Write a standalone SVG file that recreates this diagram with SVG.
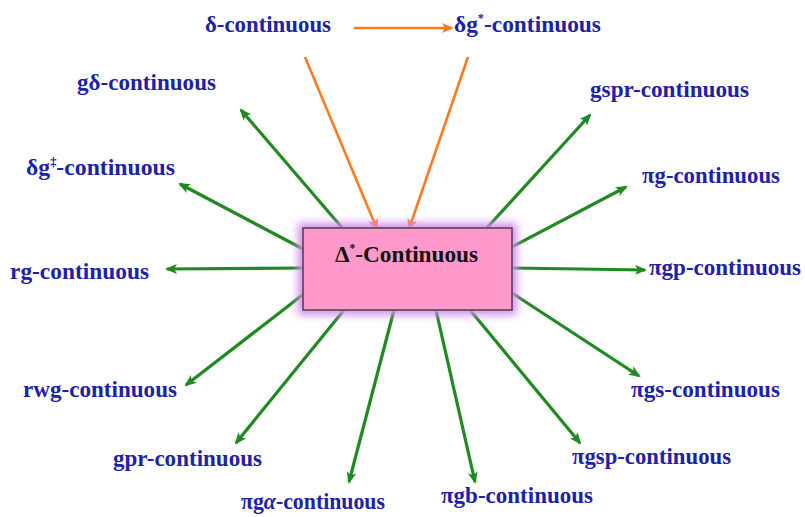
<svg xmlns="http://www.w3.org/2000/svg" width="805" height="517" viewBox="0 0 805 517">
<style>
.lbl{font-family:"Liberation Serif","Times New Roman",serif;font-weight:bold;font-size:23px;fill:#1e22a6}
.ctr{font-family:"Liberation Serif","Times New Roman",serif;font-weight:bold;font-size:24px;fill:#111}
.g{stroke:#1f8a1f;stroke-width:3.2;fill:none;marker-end:url(#ag)}
.o{stroke:#ff7a1f;stroke-width:2.6;fill:none;marker-end:url(#ao)}
.sup{font-size:12px}
</style>
<defs>
<marker id="ag" markerUnits="userSpaceOnUse" markerWidth="12" markerHeight="10" refX="10" refY="5" orient="auto"><path d="M0,0 L12,5 L0,10 L3,5 z" fill="#1f8a1f"/></marker>
<marker id="ao" markerUnits="userSpaceOnUse" markerWidth="12" markerHeight="10" refX="10" refY="5" orient="auto"><path d="M0,0 L12,5 L0,10 L3,5 z" fill="#ff7a1f"/></marker>
<filter id="glow" x="-20%" y="-30%" width="140%" height="160%"><feGaussianBlur stdDeviation="4"/></filter>
</defs>
<rect width="805" height="517" fill="#fff"/>
<g id="connectors">
<path class="o" d="M354,28 L452,28"/>
<path class="o" d="M305,57 L377,229"/>
<path class="o" d="M468,57 L409,229"/>
<path class="g" d="M344,230 L241,110"/>
<path class="g" d="M485,230 L590,115"/>
<path class="g" d="M305,250 L180,184"/>
<path class="g" d="M506,250 L626,187"/>
<path class="g" d="M305,268 L167,269"/>
<path class="g" d="M512,268 L645,270"/>
<path class="g" d="M305,293 L186,385"/>
<path class="g" d="M512,293 L639,376"/>
<path class="g" d="M344,310 L236,443"/>
<path class="g" d="M470,310 L580,443"/>
<path class="g" d="M394,310 L349,482"/>
<path class="g" d="M436,310 L475,482"/>
</g>
<g id="center">
<rect x="298" y="223" width="219" height="92" fill="#d58cf0" filter="url(#glow)"/>
<rect x="303" y="228" width="209" height="82" fill="#ff99cc" stroke="#444" stroke-width="1.5"/>
<text class="ctr" x="335" y="262" textLength="143" lengthAdjust="spacingAndGlyphs">Δ<tspan class="sup" dy="-10">*</tspan><tspan dy="10">-Continuous</tspan></text>
</g>
<g id="n-delta"><text class="lbl" x="205" y="32" textLength="126" lengthAdjust="spacingAndGlyphs">δ-continuous</text></g>
<g id="n-dgstar"><text class="lbl" x="454" y="32" textLength="147" lengthAdjust="spacingAndGlyphs">δg<tspan class="sup" dy="-10">*</tspan><tspan dy="10">-continuous</tspan></text></g>
<g id="n-gdelta"><text class="lbl" x="77" y="90" textLength="139" lengthAdjust="spacingAndGlyphs">gδ-continuous</text></g>
<g id="n-gspr"><text class="lbl" x="590" y="97" textLength="159" lengthAdjust="spacingAndGlyphs">gspr-continuous</text></g>
<g id="n-dgdd"><text class="lbl" x="26" y="175" textLength="149" lengthAdjust="spacingAndGlyphs">δg<tspan class="sup" dy="-9">‡</tspan><tspan dy="9">-continuous</tspan></text></g>
<g id="n-pig"><text class="lbl" x="642" y="183" textLength="138" lengthAdjust="spacingAndGlyphs">πg-continuous</text></g>
<g id="n-rg"><text class="lbl" x="10" y="279" textLength="139" lengthAdjust="spacingAndGlyphs">rg-continuous</text></g>
<g id="n-pigp"><text class="lbl" x="649" y="275" textLength="152" lengthAdjust="spacingAndGlyphs">πgp-continuous</text></g>
<g id="n-rwg"><text class="lbl" x="23" y="397" textLength="154" lengthAdjust="spacingAndGlyphs">rwg-continuous</text></g>
<g id="n-pigs"><text class="lbl" x="631" y="397" textLength="149" lengthAdjust="spacingAndGlyphs">πgs-continuous</text></g>
<g id="n-gpr"><text class="lbl" x="113" y="466" textLength="149" lengthAdjust="spacingAndGlyphs">gpr-continuous</text></g>
<g id="n-pigsp"><text class="lbl" x="572" y="464" textLength="159" lengthAdjust="spacingAndGlyphs">πgsp-continuous</text></g>
<g id="n-pigalpha"><text class="lbl" x="241" y="509" textLength="144" lengthAdjust="spacingAndGlyphs">πg<tspan font-style="italic">α</tspan>-continuous</text></g>
<g id="n-pigb"><text class="lbl" x="441" y="503" textLength="152" lengthAdjust="spacingAndGlyphs">πgb-continuous</text></g>
</svg>
